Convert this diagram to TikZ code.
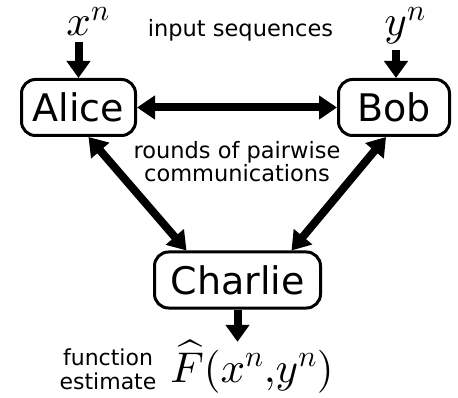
\RequirePackage{fix-cm}
\documentclass[tikz,border=0pt]{standalone}
\usepackage[no-math]{fontspec}
\usepackage{amsmath}
\usetikzlibrary{positioning,arrows.meta}
\newfontfamily\dejavu{DejaVu Sans}
% scale the 10pt designs for the big math
\DeclareFontShape{OML}{cmm}{m}{it}{<-> cmmi10}{}
\DeclareFontShape{OT1}{cmr}{m}{n}{<-> cmr10}{}
\DeclareFontShape{OMX}{cmex}{m}{n}{<-> cmex10}{}

\begin{document}
\begin{tikzpicture}[
  x=1pt, y=-1pt,
  font=\dejavu\fontsize{22.5}{23}\selectfont,
  party/.style={draw, line width=3pt, rounded corners=14pt, minimum height=56pt, font=\dejavu\fontsize{38}{44}\selectfont},
  seq/.style={font=\fontsize{43}{48}\selectfont, anchor=base, inner sep=0pt},
  link/.style={line width=8pt, {Triangle[length=18pt,width=23pt]}-{Triangle[length=18pt,width=23pt]}},
  feed/.style={line width=8pt, -{Triangle[length=17pt,width=23pt]}}
]
  \useasboundingbox (0,0) rectangle (458,398);
  \node[party, minimum width=114pt] (a) at (78.5,107.5) {Alice};
  \node[party, minimum width=111pt] (b) at (394,107.5) {Bob};
  \node[party, minimum width=166pt] (c) at (237.5,280) {Charlie};
  \node[seq] (xn) at (88,36) {$x^n$};
  \node[seq] (yn) at (405,36) {$y^n$};
  \node[seq] (fh) at (252,382) {$\widehat{F}(x^n{,}y^n)$};
  \node[anchor=base] (in) at (240.5,36.7) {input sequences};
  \node[align=center] (rd) at (237,161.5) {rounds of pairwise\\communications};
  \node[align=center, inner sep=0pt, font=\dejavu\fontsize{22}{24}\selectfont] (fe) at (108,369) {function\\estimate};
  \draw[feed] ([yshift=-6pt]xn.south -| a.north) -- (a.north);
  \draw[feed] ([xshift=2pt,yshift=-5pt]yn.south -| b.north) -- ([xshift=2pt]b.north);
  \draw[link] (a) -- (b);
  \draw[link] ([xshift=10pt]a.south) -- ([xshift=-51pt]c.north);
  \draw[link] ([xshift=-8pt]b.south) -- ([xshift=54pt]c.north);
  \draw[feed] (c.south) -- ([yshift=-2pt]fh.north -| c.south);
\end{tikzpicture}
\end{document}
